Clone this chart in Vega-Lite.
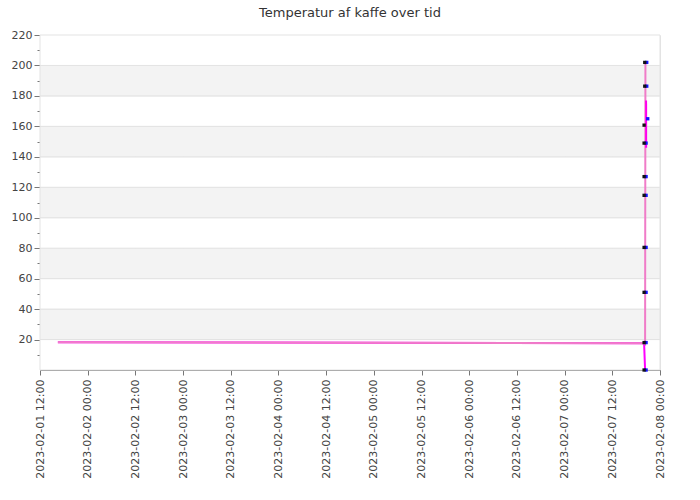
{
  "$schema": "https://vega.github.io/schema/vega-lite/v6.json",
  "autosize": "none",
  "width": 620,
  "height": 335,
  "padding": {"left": 40, "top": 35, "right": 40, "bottom": 130},
  "background": "white",
  "config": {
    "font": "DejaVu Sans",
    "view": {"stroke": null},
    "axis": {"labelFont": "DejaVu Sans", "labelColor": "#444", "labelFontSize": 11, "domainColor": "#777", "tickColor": "#777", "gridColor": "#e3e3e3"}
  },
  "title": {"text": "Temperatur af kaffe over tid", "fontSize": 13, "fontWeight": "normal", "color": "#333", "offset": 9, "font": "DejaVu Sans"},
  "datasets": {
    "bands": [
      {"lo": 0, "hi": 20, "k": "w"}, {"lo": 20, "hi": 40, "k": "g"}, {"lo": 40, "hi": 60, "k": "w"}, {"lo": 60, "hi": 80, "k": "g"},
      {"lo": 80, "hi": 100, "k": "w"}, {"lo": 100, "hi": 120, "k": "g"}, {"lo": 120, "hi": 140, "k": "w"}, {"lo": 140, "hi": 160, "k": "g"},
      {"lo": 160, "hi": 180, "k": "w"}, {"lo": 180, "hi": 200, "k": "g"}, {"lo": 200, "hi": 220, "k": "w"}
    ],
    "lines": [
      {"t": "2023-02-01T16:30:00", "v": 18.3, "s": "a"},
      {"t": "2023-02-07T20:00:00", "v": 17.5, "s": "a"},
      {"t": "2023-02-07T20:15:00", "v": 0, "s": "a"},
      {"t": "2023-02-01T16:30:00", "v": 18.3, "s": "b"},
      {"t": "2023-02-07T20:00:00", "v": 17.5, "s": "b"},
      {"t": "2023-02-07T20:15:00", "v": 17.0, "s": "b"},
      {"t": "2023-02-07T20:20:00", "v": 202, "s": "b"},
      {"t": "2023-02-07T20:30:00", "v": 177, "s": "c"},
      {"t": "2023-02-07T20:31:00", "v": 146, "s": "c"}
    ],
    "points": [
      {"t": "2023-02-07T20:40:00", "v": 202, "g": "blue"},
      {"t": "2023-02-07T20:40:00", "v": 186.4, "g": "blue"},
      {"t": "2023-02-07T20:55:00", "v": 165, "g": "blue"},
      {"t": "2023-02-07T20:30:00", "v": 149, "g": "blue"},
      {"t": "2023-02-07T20:30:00", "v": 127, "g": "blue"},
      {"t": "2023-02-07T20:30:00", "v": 114.7, "g": "blue"},
      {"t": "2023-02-07T20:30:00", "v": 80.5, "g": "blue"},
      {"t": "2023-02-07T20:30:00", "v": 51, "g": "blue"},
      {"t": "2023-02-07T20:30:00", "v": 18, "g": "blue"},
      {"t": "2023-02-07T20:30:00", "v": 0, "g": "blue"},
      {"t": "2023-02-07T20:10:00", "v": 202, "g": "black"},
      {"t": "2023-02-07T20:10:00", "v": 186.4, "g": "black"},
      {"t": "2023-02-07T20:00:00", "v": 160.8, "g": "black"},
      {"t": "2023-02-07T20:00:00", "v": 149, "g": "black"},
      {"t": "2023-02-07T20:00:00", "v": 127, "g": "black"},
      {"t": "2023-02-07T20:00:00", "v": 114.7, "g": "black"},
      {"t": "2023-02-07T20:00:00", "v": 80.5, "g": "black"},
      {"t": "2023-02-07T20:00:00", "v": 51, "g": "black"},
      {"t": "2023-02-07T20:00:00", "v": 18, "g": "black"},
      {"t": "2023-02-07T20:00:00", "v": 0, "g": "black"}
    ]
  },
  "resolve": {"scale": {"fill": "independent", "color": "independent"}},
  "layer": [
    {
      "data": {"name": "bands"},
      "mark": {"type": "rect", "stroke": "#e3e3e3", "strokeWidth": 1},
      "encoding": {
        "y": {
          "field": "lo", "type": "quantitative", "scale": {"domain": [0, 220], "nice": false},
          "axis": {
            "title": null, "grid": false, "tickCount": 100,
            "values": [10, 20, 30, 40, 50, 60, 70, 80, 90, 100, 110, 120, 130, 140, 150, 160, 170, 180, 190, 200, 210, 220],
            "labelExpr": "(datum.value / 20) == floor(datum.value / 20) ? datum.label : ''",
            "tickSize": {"condition": {"test": "(datum.value / 20) == floor(datum.value / 20)", "value": 6}, "value": 3},
            "labelPadding": 2, "labelOverlap": false, "labelFlush": false, "labelBound": false
          }
        },
        "y2": {"field": "hi"},
        "fill": {"field": "k", "type": "nominal", "scale": {"domain": ["w", "g"], "range": ["#ffffff", "#f3f3f3"]}, "legend": null}
      }
    },
    {
      "data": {"name": "lines"},
      "mark": {"type": "line", "strokeWidth": 2},
      "encoding": {
        "x": {
          "field": "t", "type": "temporal",
          "scale": {"domain": [{"year": 2023, "month": 2, "date": 1, "hours": 12}, {"year": 2023, "month": 2, "date": 8, "hours": 0}]},
          "axis": {
            "title": null, "format": "%Y-%m-%d %H:%M", "labelAngle": -90, "labelAlign": "right", "labelBaseline": "middle", "tickCount": 100,
            "values": [
              {"year": 2023, "month": 2, "date": 1, "hours": 12},
              {"year": 2023, "month": 2, "date": 2, "hours": 0},
              {"year": 2023, "month": 2, "date": 2, "hours": 12},
              {"year": 2023, "month": 2, "date": 3, "hours": 0},
              {"year": 2023, "month": 2, "date": 3, "hours": 12},
              {"year": 2023, "month": 2, "date": 4, "hours": 0},
              {"year": 2023, "month": 2, "date": 4, "hours": 12},
              {"year": 2023, "month": 2, "date": 5, "hours": 0},
              {"year": 2023, "month": 2, "date": 5, "hours": 12},
              {"year": 2023, "month": 2, "date": 6, "hours": 0},
              {"year": 2023, "month": 2, "date": 6, "hours": 12},
              {"year": 2023, "month": 2, "date": 7, "hours": 0},
              {"year": 2023, "month": 2, "date": 7, "hours": 12},
              {"year": 2023, "month": 2, "date": 8, "hours": 0}
            ],
            "labelPadding": 4, "tickSize": 5, "labelOverlap": false, "labelBound": false, "labelFlush": false
          }
        },
        "y": {"field": "v", "type": "quantitative"},
        "detail": {"field": "s"},
        "color": {"field": "s", "type": "nominal", "scale": {"domain": ["a", "b", "c"], "range": ["#ff00ff", "#f07cc8", "#ff00ee"]}, "legend": null}
      }
    },
    {
      "data": {"name": "points"},
      "mark": {"type": "square", "size": 11, "opacity": 1},
      "encoding": {
        "x": {"field": "t", "type": "temporal"},
        "y": {"field": "v", "type": "quantitative"},
        "fill": {"field": "g", "type": "nominal", "scale": {"domain": ["black", "blue"], "range": ["#111111", "#1010ff"]}, "legend": null}
      }
    }
  ]
}
